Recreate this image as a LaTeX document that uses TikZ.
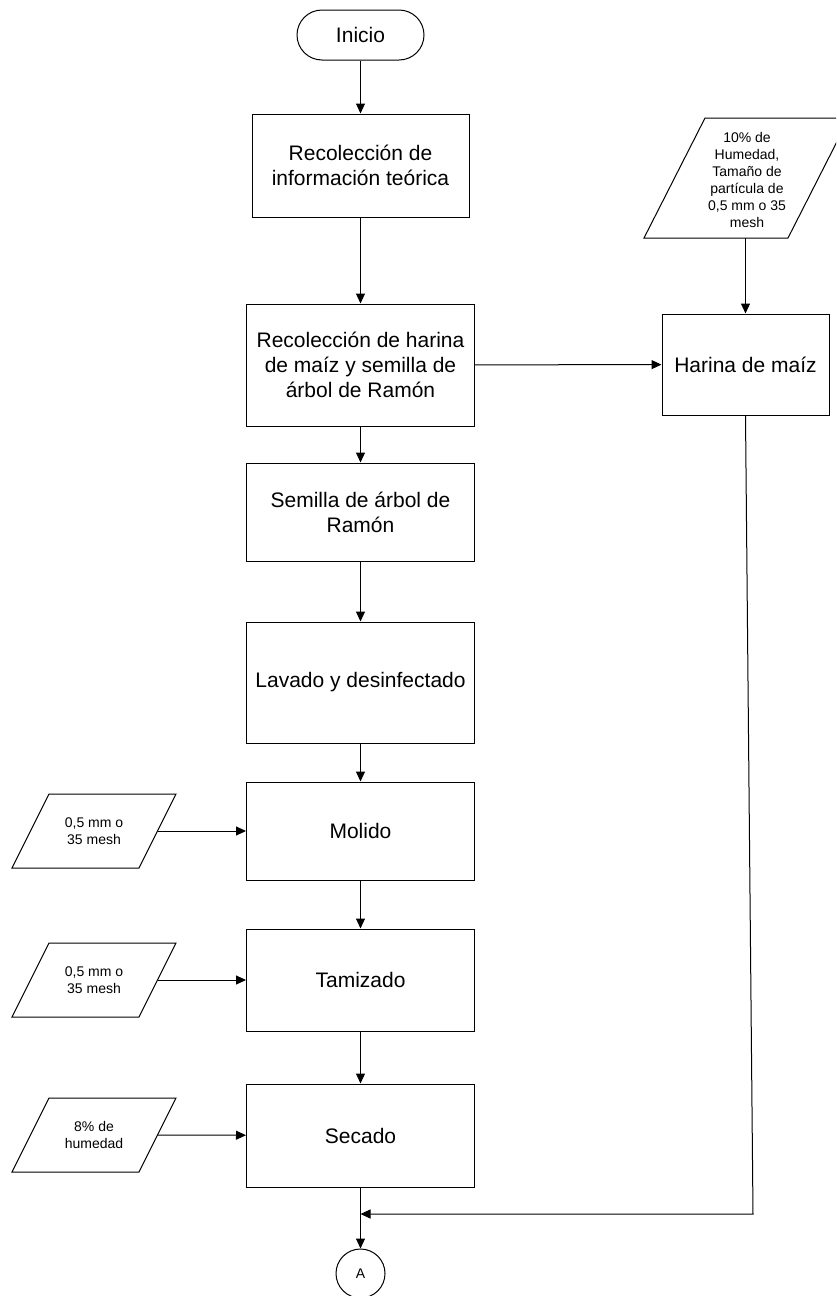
\documentclass[tikz,border=0pt]{standalone}
\usepackage{fontspec}
\setmainfont{Liberation Sans}
\usetikzlibrary{arrows.meta}
\begin{document}
\begin{tikzpicture}[x=1pt,y=-1pt,
  proc/.style={draw, line width=1pt, minimum width=228pt, align=center, font=\fontsize{21}{25}\selectfont, inner sep=0pt},
  arr/.style={-{Triangle[length=10pt,width=9pt]}, line width=1pt},
  small/.style={font=\fontsize{14}{17}\selectfont, align=center, inner sep=0pt},
  para/.style={draw, line width=1pt, line join=miter}
]
\useasboundingbox (0,0) rectangle (836,1296);
\clip (0,0) rectangle (836,1296);

% main column
\node[proc, minimum width=127pt, minimum height=50pt, rounded corners=25pt] (ini) at (360.5,35) {Inicio};
\node[proc, minimum width=217pt, minimum height=103pt] (b1) at (360.5,165.5) {Recolección de\\información teórica};
\node[proc, minimum height=122pt] (b2) at (360.5,365) {Recolección de harina\\de maíz y semilla de\\árbol de Ramón};
\node[proc, minimum height=98pt] (b3) at (360.5,512) {Semilla de árbol de\\Ramón};
\node[proc, minimum height=121pt] (b4) at (360.5,682.5) {Lavado y desinfectado};
\node[proc, minimum height=98pt] (mol) at (360.5,831) {Molido};
\node[proc, minimum height=102pt] (tam) at (360.5,980) {Tamizado};
\node[proc, minimum height=103pt] (sec) at (360.5,1135.5) {Secado};
\node[draw, circle, line width=1pt, minimum size=49pt, inner sep=0pt, font=\fontsize{14}{17}\selectfont] (A) at (360.5,1273.5) {A};

% right column
\draw[para] (705,118) -- (849,118) -- (788,238) -- (644,238) -- cycle;
\node[small] (pr) at (747,180) {10\% de\\Humedad,\\Tamaño de\\partícula de\\0,5 mm o 35\\mesh};
\coordinate (prs) at (745.5,238);
\node[proc, minimum width=167pt, minimum height=101pt] (har) at (745.5,364.5) {Harina de maíz};

% left inputs
\draw[para] (49,794) -- (176,794) -- (139,868) -- (12,868) -- cycle;
\node[small] (p1) at (94,831) {0,5 mm o\\35 mesh};
\coordinate (p1e) at (157.5,831);
\draw[para] (49,943) -- (176,943) -- (139,1017) -- (12,1017) -- cycle;
\node[small] (p2) at (94,980) {0,5 mm o\\35 mesh};
\coordinate (p2e) at (157.5,980);
\draw[para] (49,1098) -- (176,1098) -- (139,1172) -- (12,1172) -- cycle;
\node[small] (p3) at (94,1135) {8\% de\\humedad};
\coordinate (p3e) at (157.5,1135);

% connectors
\draw[arr] (ini) -- (b1);
\draw[arr] (b1) -- (b2);
\draw[arr] (b2) -- (b3);
\draw[arr] (b3) -- (b4);
\draw[arr] (b4) -- (mol);
\draw[arr] (mol) -- (tam);
\draw[arr] (tam) -- (sec);
\draw[arr] (sec) -- (A);
\draw[arr] (b2) -- (har);
\draw[arr] (prs) -- (har);
\draw[arr] (p1e) -- (mol);
\draw[arr] (p2e) -- (tam);
\draw[arr] (p3e) -- (sec);
\coordinate (hb) at (753,1214);
\coordinate (j) at (360.5,1214);
\draw[arr] (har.south) -- (hb) -- (j);
\end{tikzpicture}
\end{document}
